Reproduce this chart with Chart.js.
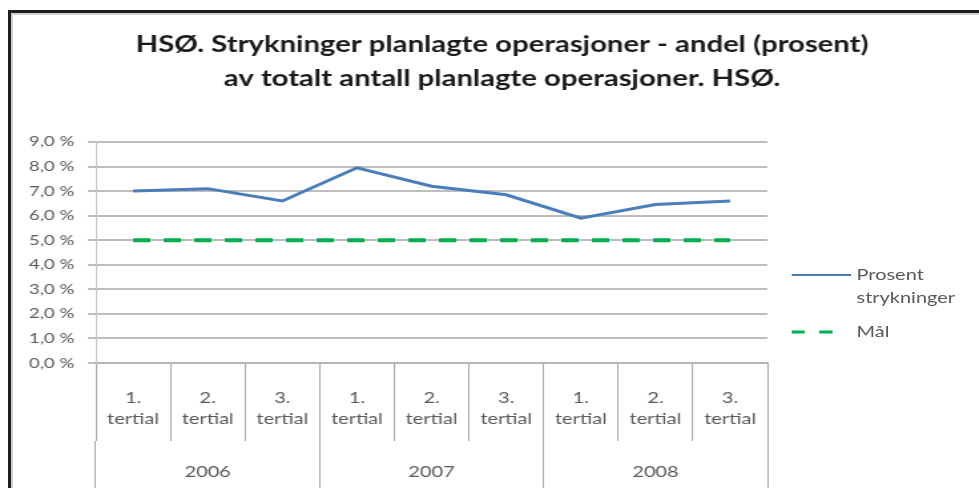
<!DOCTYPE html>
<html>
<head>
<meta charset="utf-8">
<script src="https://cdn.jsdelivr.net/npm/chart.js@4.4.1/dist/chart.umd.min.js"></script>
<style>
    html, body { margin: 0; padding: 0; background: #fff; }
    body { width: 979px; height: 488px; overflow: hidden; position: relative; font-family: Lato, 'Open Sans', sans-serif; }
    .frame { position: absolute; left: 8px; top: 10px; width: 1200px; height: 800px; border: 3px solid #1e1e1e; }
    .frame-inner { position: absolute; left: 11px; top: 13px; width: 1200px; height: 800px; border: 2px solid #cfcfcf; }
    /* the source picture is stretched sideways, so the whole chart is widened the same way */
    #stretch { position: absolute; left: 0; top: 0; width: 755px; height: 488px; transform: scaleX(1.33); transform-origin: 0 0; }
    #chart { position: absolute; left: 0; top: 0; }
    #legend { position: absolute; left: 595px; top: 263px; color: #595959; font-size: 15px; }
    .legend-item { display: flex; align-items: flex-start; margin-bottom: 11px; }
    .legend-item svg { flex: none; margin-top: 8px; margin-right: 4px; }
    .legend-text { line-height: 23px; }
</style>
</head>
<body>
<div class="frame"></div>
<div class="frame-inner"></div>
<div id="stretch">
    <canvas id="chart" width="755" height="488"></canvas>
    <div id="legend"></div>
</div>
<script>
const years = ['2006', '2007', '2008'];
const tertials = [['1.', 'tertial'], ['2.', 'tertial'], ['3.', 'tertial']];
const categories = years.flatMap(() => tertials);

const prosentStrykninger = [7.0, 7.1, 6.6, 7.95, 7.2, 6.85, 5.9, 6.45, 6.6];
const maal = [5.0, 5.0, 5.0, 5.0, 5.0, 5.0, 5.0, 5.0, 5.0];

const seriesNames = [['Prosent', 'strykninger'], ['Mål']];
const titleLines = [
    'HSØ. Strykninger planlagte operasjoner - andel (prosent)',
    'av totalt antall planlagte operasjoner. HSØ.'
];

const FONT = "Lato, 'Open Sans', sans-serif";
const TEXT_GREY = '#595959';

function formatPercent(value) {
    return value.toFixed(1).replace('.', ',') + ' %';
}

// the title is centred over the whole canvas, not just the part left of the legend space
const titleAcrossCanvas = {
    id: 'titleAcrossCanvas',
    afterLayout(chart) {
        if (chart.titleBlock) {
            chart.titleBlock.left = 0;
            chart.titleBlock.right = chart.width;
        }
    }
};

const ctx = document.getElementById('chart');

const chart = new Chart(ctx, {
    type: 'line',
    data: {
        labels: categories,
        datasets: [{
            label: seriesNames[0],
            data: prosentStrykninger,
            borderColor: '#4a7ebb',
            backgroundColor: '#4a7ebb',
            borderWidth: 3,
            pointRadius: 0,
            tension: 0,
            fill: false
        }, {
            label: seriesNames[1],
            data: maal,
            borderColor: '#00b050',
            backgroundColor: '#00b050',
            borderWidth: 4,
            borderDash: [13, 10],
            pointRadius: 0,
            tension: 0,
            fill: false
        }]
    },
    options: {
        responsive: false,
        animation: false,
        layout: {
            padding: { top: 0, right: 178, bottom: 0, left: 0 }
        },
        plugins: {
            legend: { display: false },
            tooltip: { enabled: false },
            title: {
                display: true,
                text: titleLines,
                color: '#1a1a1a',
                font: { family: FONT, size: 22, weight: 'bold', lineHeight: 1.545 },
                padding: { top: 28, bottom: 46 }
            }
        },
        scales: {
            x: {
                type: 'category',
                position: 'bottom',
                weight: 0,
                offset: true,
                border: { display: true, color: '#b5b5b5', width: 2 },
                grid: {
                    offset: true,
                    drawOnChartArea: false,
                    tickLength: 78,
                    color: '#a8a8a8',
                    lineWidth: 1
                },
                ticks: {
                    color: TEXT_GREY,
                    font: { family: FONT, size: 15, lineHeight: 1.4 },
                    padding: -53,
                    maxRotation: 0,
                    autoSkip: false
                },
                afterFit: scale => { scale.height = 78; }
            },
            x2: {
                type: 'category',
                labels: years,
                position: 'bottom',
                weight: 1,
                offset: true,
                border: { display: false },
                grid: {
                    offset: true,
                    drawOnChartArea: false,
                    tickLength: 60,
                    color: '#a8a8a8',
                    lineWidth: 1
                },
                ticks: {
                    color: TEXT_GREY,
                    font: { family: FONT, size: 15, lineHeight: 1.4 },
                    padding: -39,
                    maxRotation: 0,
                    autoSkip: false
                },
                afterFit: scale => { scale.height = 47; }
            },
            y: {
                min: 0,
                max: 9,
                border: { display: true, color: '#c8c8c8', width: 1 },
                grid: {
                    color: '#bdbdbd',
                    lineWidth: 2,
                    tickLength: 6
                },
                ticks: {
                    stepSize: 1,
                    color: TEXT_GREY,
                    font: { family: FONT, size: 14 },
                    padding: 10,
                    callback: value => formatPercent(value)
                },
                afterFit: scale => { scale.width = 72; }
            }
        }
    },
    plugins: [titleAcrossCanvas]
});

// legend built from the datasets so it can show line samples with wrapped text
function buildLegend(chart) {
    const legend = document.getElementById('legend');
    legend.innerHTML = '';
    chart.data.datasets.forEach(ds => {
        const item = document.createElement('div');
        item.className = 'legend-item';
        const dash = ds.borderDash ? '10,11,10,40' : 'none';
        item.innerHTML =
            '<svg width="45" height="8"><line x1="0" y1="4" x2="45" y2="4" stroke="' + ds.borderColor +
            '" stroke-width="' + Math.max(2, ds.borderWidth - 1) + '" stroke-dasharray="' + dash + '"/></svg>' +
            '<div class="legend-text">' + [].concat(ds.label).join('<br>') + '</div>';
        legend.appendChild(item);
    });
}

buildLegend(chart);
</script>
</body>
</html>
